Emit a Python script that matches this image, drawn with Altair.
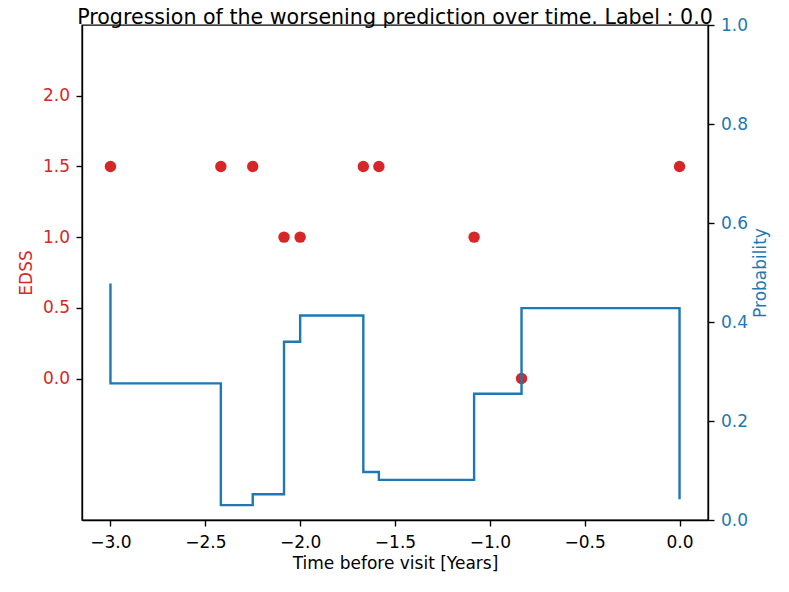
import altair as alt
import pandas as pd

# EDSS observations
visit_times = [-3.0, -2.418, -2.25, -2.085, -2.0, -1.667, -1.585, -1.083, -0.833, 0.0]
edss_values = [1.5, 1.5, 1.5, 1.0, 1.0, 1.5, 1.5, 1.0, 0.0, 1.5]

# worsening probability (step line)
prob_times = [-3.0, -3.0, -2.418, -2.25, -2.085, -2.0, -1.667, -1.585, -1.083, -0.833, 0.0]
prob_values = [0.478, 0.276, 0.030, 0.052, 0.360, 0.413, 0.097, 0.081, 0.255, 0.428, 0.042]

x_ticks = [-3.0, -2.5, -2.0, -1.5, -1.0, -0.5, 0.0]
edss_ticks = [0.0, 0.5, 1.0, 1.5, 2.0]
prob_ticks = [0.0, 0.2, 0.4, 0.6, 0.8, 1.0]

RED = "#d62728"
BLUE = "#1f77b4"
FONT = "DejaVu Sans"
FS = 17
TW = 1.37

pts = pd.DataFrame({"t": visit_times, "edss": edss_values})
line = pd.DataFrame({"t": prob_times, "p": prob_values, "o": list(range(len(prob_times)))})

common = dict(grid=False, tickSize=6, tickWidth=TW, tickColor="black",
              domainColor="black", domainWidth=TW,
              labelFont=FONT, labelFontSize=FS,
              titleFont=FONT, titleFontSize=FS, titleFontWeight="normal")

xscale = alt.Scale(domain=[-3.15, 0.15], nice=False, zero=False)
xaxis = alt.Axis(values=x_ticks, format=".1f", title="Time before visit [Years]",
                 labelColor="black", titleColor="black", labelPadding=8, titlePadding=5,
                 **common)

points = alt.Chart(pts).mark_circle(size=130, color=RED, opacity=1).encode(
    x=alt.X("t:Q", scale=xscale, axis=xaxis),
    y=alt.Y("edss:Q", scale=alt.Scale(domain=[-1.0, 2.5], nice=False, zero=False),
            axis=alt.Axis(orient="left", values=edss_ticks, format=".1f", title="EDSS",
                          labelColor=RED, titleColor=RED, labelPadding=6.5, titlePadding=7,
                          **common)),
)

steps = alt.Chart(line).mark_line(interpolate="step-after", color=BLUE, strokeWidth=2.4).encode(
    x=alt.X("t:Q", scale=xscale, axis=xaxis),
    y=alt.Y("p:Q", scale=alt.Scale(domain=[0.0, 1.0], nice=False, zero=False),
            axis=alt.Axis(orient="right", values=prob_ticks, format=".1f", title="Probability",
                          labelColor=BLUE, titleColor=BLUE, labelPadding=6.5, titlePadding=22,
                          titleAngle=270, **common)),
    order="o:Q",
)

chart = alt.layer(points, steps).resolve_scale(y="independent").properties(
    width=626, height=495,
    title=alt.TitleParams("Progression of the worsening prediction over time. Label : 0.0",
                          font=FONT, fontSize=20.6, fontWeight="normal", color="black",
                          anchor="middle", frame="group", baseline="alphabetic", offset=-28.5),
    autosize=alt.AutoSizeParams(type="none"),
    padding={"left": 74, "top": 17, "right": 73, "bottom": 60},
).configure_view(stroke="black", strokeWidth=TW)

chart.save("out.html", embed_options={"renderer": "svg", "actions": False})
